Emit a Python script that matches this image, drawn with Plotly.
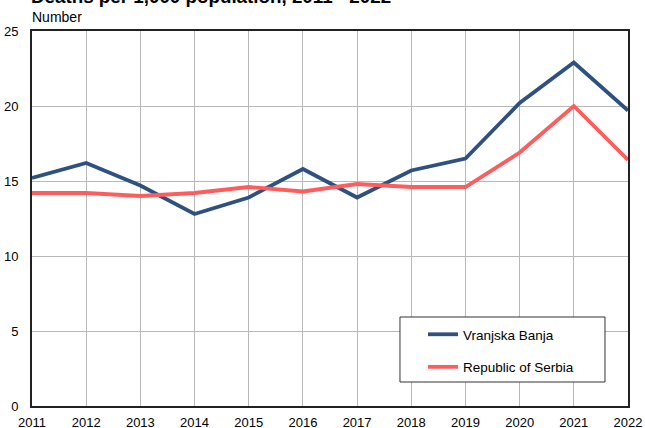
import plotly.graph_objects as go

years = [2011, 2012, 2013, 2014, 2015, 2016, 2017, 2018, 2019, 2020, 2021, 2022]
vranjska_banja = [15.2, 16.2, 14.7, 12.8, 13.9, 15.8, 13.9, 15.7, 16.5, 20.2, 22.9, 19.7]
serbia = [14.2, 14.2, 14.0, 14.2, 14.6, 14.3, 14.8, 14.6, 14.6, 16.9, 20.0, 16.4]
y_ticks = [0, 5, 10, 15, 20, 25]

FONT = "Liberation Sans, Arial, sans-serif"

fig = go.Figure()
fig.add_trace(go.Scatter(x=years, y=vranjska_banja, mode="lines", name="Vranjska Banja",
                         line=dict(color="#2F5180", width=3.8), legendgroup="a"))
fig.add_trace(go.Scatter(x=years, y=serbia, mode="lines", name="Republic of Serbia",
                         line=dict(color="#FF5C5C", width=3.8), legendgroup="b"))

fig.update_layout(
    width=645, height=428,
    margin=dict(l=32, r=17, t=31, b=22, autoexpand=False),
    plot_bgcolor="white", paper_bgcolor="white",
    font=dict(family=FONT, size=13, color="#000"),
    showlegend=True,
    legend=dict(x=0.656, y=0.232, xanchor="left", yanchor="top",
                borderwidth=0, bgcolor="rgba(0,0,0,0)",
                font=dict(size=13.5), traceorder="grouped", tracegroupgap=12,
                itemwidth=30),
    xaxis=dict(range=[2011, 2022], tickvals=years, ticktext=[str(y) for y in years],
               showgrid=True, gridcolor="#b8b8b8", gridwidth=1,
               showline=True, linecolor="#222", linewidth=2, mirror=True,
               ticks="", tickfont=dict(size=13), zeroline=False, automargin=False,
               ticklabelstandoff=3),
    yaxis=dict(range=[0, 25], tickvals=y_ticks,
               showgrid=True, gridcolor="#b8b8b8", gridwidth=1,
               showline=True, linecolor="#222", linewidth=2, mirror=True,
               ticks="", tickfont=dict(size=13), zeroline=False, automargin=False,
               ticklabelstandoff=9),
    shapes=[dict(type="rect", xref="paper", yref="paper",
                 x0=0.6174, x1=0.9614, y0=0.064, y1=0.2373,
                 line=dict(color="#333", width=1), fillcolor="white", layer="above")],
    annotations=[
        dict(text="<b>Deaths per 1,000 population, 2011 - 2022</b>", x=0, y=1.0907,
             xref="paper", yref="paper", xanchor="left", yanchor="middle",
             xshift=-3, showarrow=False, font=dict(size=18.8)),
        dict(text="Number", x=0, y=1.0, xref="paper", yref="paper",
             xanchor="left", yanchor="bottom", yshift=4, xshift=-2, showarrow=False,
             font=dict(size=14)),
    ],
)
fig.write_html("out.html", config={"displayModeBar": False},
               post_script="document.body.style.margin='0';")
